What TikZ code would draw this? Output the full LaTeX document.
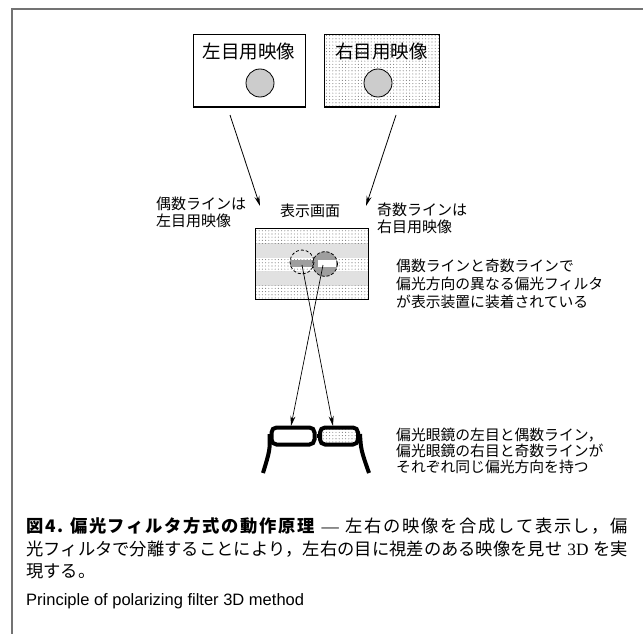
\documentclass[tikz,border=0pt]{standalone}
\usepackage{fontspec}
\setmainfont{Liberation Serif}
\newfontfamily\jp{Noto Sans CJK JP}
\newfontfamily\en{Liberation Sans}
\usetikzlibrary{patterns.meta,arrows.meta}
\definecolor{framegray}{gray}{0.45}
\definecolor{discgray}{gray}{0.8}
\definecolor{bargray}{gray}{0.62}
% set a run of characters with stretchable glue between them
\makeatletter
\newcommand\spreadtext[1]{\@tfor\spr@tok:=#1\do{\spr@tok\hskip 0pt plus 1fil\relax}\unskip}
\makeatother
\newcommand\capgap{\hskip 5pt plus 1fil\relax}
\tikzset{
  lbl/.style={font=\jp\fontsize{15}{17}\selectfont, inner sep=0pt},
  boxtitle/.style={font=\jp\fontsize{18.5}{20}\selectfont, inner sep=0pt},
  note/.style={font=\jp\fontsize{14.8}{16}\selectfont, inner sep=0pt, anchor=west},
  imgbox/.style={draw, line width=1pt, minimum height=72pt, inner sep=0pt},
  disc/.style={draw, line width=0.8pt, fill=discgray, circle, minimum size=28pt, inner sep=0pt},
  sparsedots/.style={pattern={Dots[distance=3.2pt, radius=0.55pt]}, pattern color=gray},
  densedots/.style={pattern={Dots[distance=2pt, radius=0.6pt]}, pattern color=gray},
  feed/.style={line width=0.8pt, -{Stealth[length=10pt, width=5pt]}},
  lens/.style={draw, line width=4pt, rounded corners=5pt, minimum height=17pt, inner sep=0pt},
  temple/.style={line width=4pt},
  captext/.style={font=\jp\fontsize{17.3}{19}\selectfont, inner sep=0pt, anchor=west}
}
\begin{document}
\begin{tikzpicture}[x=1pt, y=-1pt]
\useasboundingbox (0,0) rectangle (643,634);
\fill[white] (0,0) rectangle (643,634);

% page frame
\draw[framegray, line width=2pt] (12,634) -- (12,9) -- (643,9);

% source images
\node[imgbox, minimum width=112pt] (lbox) at (249,71) {};
\node[imgbox, minimum width=115pt, sparsedots] (rbox) at (381.5,71) {};
\node[boxtitle] (ltitle) at (249,52) {左目用映像};
\node[boxtitle] (rtitle) at (381.5,52) {右目用映像};
\node[disc] (ldisc) at (260,83) {};
\node[disc] (rdisc) at (378,83) {};

% display screen with alternating line bands
\node[minimum width=112pt, minimum height=70pt, inner sep=0pt] (scr) at (312,264) {};
\fill[sparsedots] (256,229) rectangle (368,243);
\fill[densedots]  (256,243) rectangle (368,257);
\fill[sparsedots] (256,257) rectangle (368,271);
\fill[densedots]  (256,271) rectangle (368,285);
\fill[sparsedots] (256,285) rectangle (368,299);
\draw[line width=1.2pt] (scr.north west) rectangle (scr.south east);

% the two images as seen on the screen
\fill[bargray] (325,264) circle (12.5);
\fill[white] (318,259.5) rectangle (336,267);
\fill[bargray] (290,259.5) rectangle (313,267);
\draw[line width=0.8pt, dash pattern=on 3pt off 2pt] (325,264) circle (12.5);
\draw[line width=0.8pt, dash pattern=on 3pt off 2pt] (302,262) circle (12);
\coordinate (lspot) at (302,265);
\coordinate (rspot) at (323,265);

% labels around the screen
\node[lbl] (scrlbl) at (310,211) {表示画面};
\node[lbl, anchor=west] (even1) at (156,204) {偶数ラインは};
\node[lbl, anchor=west] (even2) at (156,221) {左目用映像};
\node[lbl, anchor=west] (odd1) at (377,210) {奇数ラインは};
\node[lbl, anchor=west] (odd2) at (377,227) {右目用映像};

% image feed arrows
\coordinate (lfrom) at (230,115);
\coordinate (lto) at (260,206);
\coordinate (rfrom) at (396,115);
\coordinate (rto) at (366,206);
\draw[feed] (lfrom) -- (lto);
\draw[feed] (rfrom) -- (rto);

% filter description
\node[note] (f1) at (396,266) {偶数ラインと奇数ラインで};
\node[note] (f2) at (396,284) {偏光方向の異なる偏光フィルタ};
\node[note] (f3) at (396,302) {が表示装置に装着されている};

% polarized glasses
\node[lens, minimum width=43pt] (llens) at (293,436) {};
\node[lens, minimum width=38pt, sparsedots] (rlens) at (339,436) {};
\draw[temple] (llens.east) -- (rlens.west);
\draw[temple] (llens.west) ++(0,-2) .. controls (270,450) .. (263,473);
\draw[temple] (rlens.east) ++(0,-2) .. controls (361,450) .. (369,473);

% crossed viewing rays
\coordinate (lhit) at (291,426);
\coordinate (rhit) at (333,426);
\draw[feed, line width=0.7pt] (lspot) -- (rhit);
\draw[feed, line width=0.7pt] (rspot) -- (lhit);

% glasses description
\node[note] (g1) at (396,435) {偏光眼鏡の左目と偶数ライン，};
\node[note] (g2) at (396,451) {偏光眼鏡の右目と奇数ラインが};
\node[note] (g3) at (396,467) {それぞれ同じ偏光方向を持つ};

% caption
\node[captext] (cap1) at (26,526) {\makebox[602pt][s]{{\bfseries\spreadtext{図4.}}\capgap{\bfseries\spreadtext{偏光フィルタ方式の動作原理}}\capgap{\rmfamily —}\capgap\spreadtext{左右の映像を合成して表示し，偏}}};
\node[captext] (cap2) at (26,549) {\makebox[602pt][s]{\spreadtext{光フィルタで分離することにより，左右の目に視差のある映像を見せ}\capgap{\rmfamily 3D}\capgap\spreadtext{を実}}};
\node[captext] (cap3) at (26,571) {現する。};
\node[inner sep=0pt, anchor=west, font=\en\fontsize{16.5}{18}\selectfont] (capen) at (26,601) {Principle of polarizing filter 3D method};
\end{tikzpicture}
\end{document}
